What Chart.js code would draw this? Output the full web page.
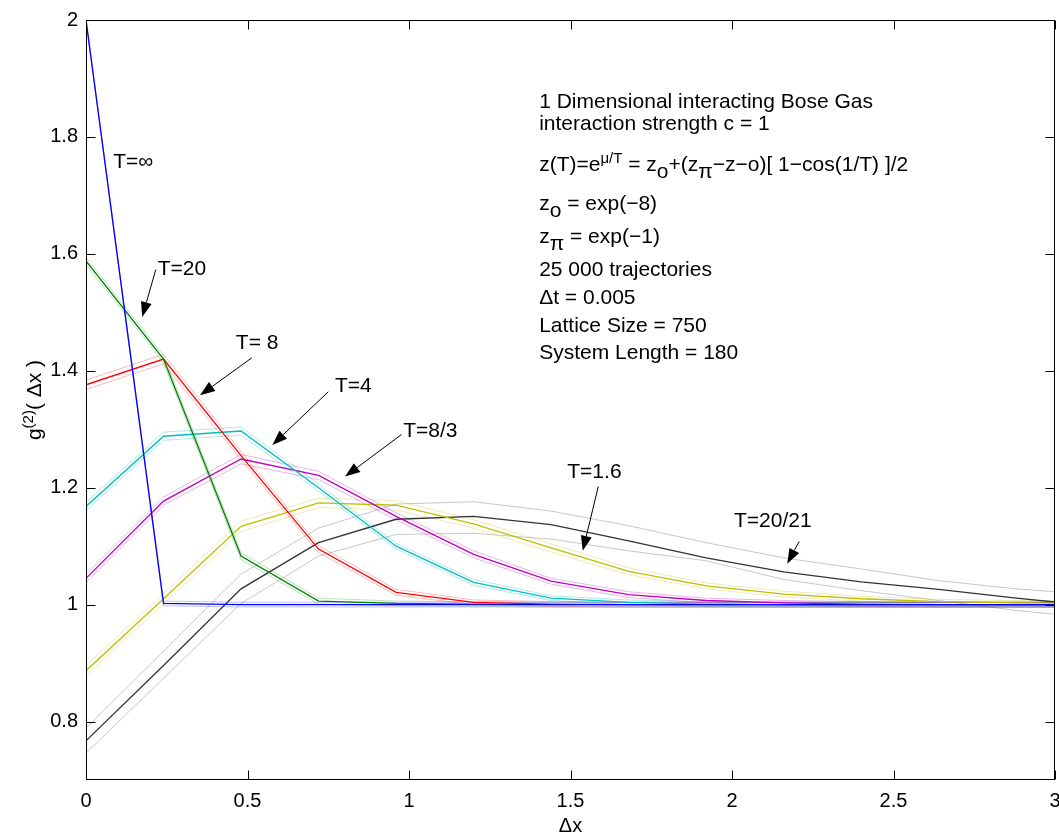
<!DOCTYPE html>
<html>
<head>
<meta charset="utf-8">
<script src="https://cdn.jsdelivr.net/npm/chart.js@4/dist/chart.umd.min.js"></script>
<style>
  html, body { margin: 0; padding: 0; background: #fff; }
  canvas { display: block; }
</style>
</head>
<body>
<canvas id="chart" width="1059" height="836"></canvas>
<script>
// ==================== DATOS ====================
// separacion de red: 180 / 750 = 0.24
const xs = [0, 0.24, 0.48, 0.72, 0.96, 1.2, 1.44, 1.68, 1.92, 2.16, 2.4, 2.64, 2.88, 3.12];

const gInf  = [2.000, 1.002, 1.000, 1.000, 1.000, 1.000, 1.000, 1.000, 1.000, 1.000, 1.000, 1.000, 1.000, 1.000];
const gT20  = [1.588, 1.420, 1.083, 1.006, 1.002, 1.001, 1.000, 1.000, 1.000, 1.000, 1.000, 1.000, 1.000, 1.000];
const gT8   = [1.376, 1.420, 1.255, 1.095, 1.021, 1.004, 1.001, 1.000, 1.000, 1.000, 1.000, 1.000, 1.000, 1.000];
const gT4   = [1.168, 1.288, 1.297, 1.200, 1.100, 1.038, 1.011, 1.004, 1.001, 1.000, 1.000, 1.000, 1.000, 1.000];
const gT83  = [1.045, 1.177, 1.249, 1.221, 1.151, 1.086, 1.040, 1.017, 1.007, 1.003, 1.001, 1.000, 1.000, 1.000];
const gT16  = [0.887, 1.010, 1.134, 1.174, 1.170, 1.138, 1.097, 1.057, 1.032, 1.018, 1.010, 1.005, 1.003, 1.002];
const gT2021 = [0.767, 0.896, 1.027, 1.106, 1.146, 1.151, 1.137, 1.109, 1.080, 1.056, 1.039, 1.026, 1.011, 0.998];

// bandas de error (medio ancho) de cada curva
const errInf  = [0.002, 0.004, 0.004, 0.004, 0.004, 0.004, 0.004, 0.004, 0.004, 0.004, 0.004, 0.004, 0.004, 0.004];
const errT20  = [0.006, 0.006, 0.006, 0.005, 0.004, 0.004, 0.004, 0.004, 0.004, 0.004, 0.004, 0.004, 0.004, 0.004];
const errT8   = [0.008, 0.008, 0.007, 0.006, 0.005, 0.004, 0.004, 0.004, 0.004, 0.004, 0.004, 0.004, 0.004, 0.004];
const errT4   = [0.007, 0.007, 0.007, 0.006, 0.005, 0.005, 0.004, 0.004, 0.004, 0.004, 0.004, 0.004, 0.004, 0.004];
const errT83  = [0.007, 0.007, 0.008, 0.007, 0.006, 0.006, 0.005, 0.005, 0.004, 0.004, 0.004, 0.004, 0.004, 0.004];
const errT16  = [0.009, 0.009, 0.009, 0.008, 0.008, 0.007, 0.007, 0.006, 0.005, 0.005, 0.004, 0.004, 0.004, 0.004];
const upT2021 = [0.789, 0.920, 1.052, 1.131, 1.172, 1.176, 1.160, 1.135, 1.106, 1.080, 1.061, 1.041, 1.027, 1.017];
const loT2021 = [0.746, 0.874, 1.002, 1.083, 1.120, 1.122, 1.112, 1.092, 1.075, 1.043, 1.024, 1.007, 0.990, 0.977];

const xTicks = [0, 0.5, 1, 1.5, 2, 2.5, 3];
const yTicks = [0.8, 1, 1.2, 1.4, 1.6, 1.8, 2];

const FONT_FAMILY = "'Liberation Sans', Arial, Helvetica, sans-serif";
const FONT = '21px ' + FONT_FAMILY;
const SUP_FONT = '15px ' + FONT_FAMILY;

// etiquetas con flecha: texto (x, y) y flecha desde (ax1, ay1) hasta la punta (ax2, ay2), en unidades de datos
const curveLabels = [
    { text: 'T=∞',     x: 0.084, y: 1.747 },
    { text: 'T=20',    x: 0.222, y: 1.563, ax1: 0.216, ay1: 1.573, ax2: 0.174, ay2: 1.492 },
    { text: 'T= 8',    x: 0.464, y: 1.438, ax1: 0.513, ay1: 1.422, ax2: 0.353, ay2: 1.358 },
    { text: 'T=4',     x: 0.771, y: 1.364, ax1: 0.750, ay1: 1.364, ax2: 0.577, ay2: 1.273 },
    { text: 'T=8/3',   x: 0.982, y: 1.286, ax1: 0.977, ay1: 1.291, ax2: 0.802, ay2: 1.219 },
    { text: 'T=1.6',   x: 1.490, y: 1.217, ax1: 1.586, ay1: 1.202, ax2: 1.538, ay2: 1.092 },
    { text: 'T=20/21', x: 2.006, y: 1.133, ax1: 2.208, ay1: 1.108, ax2: 2.171, ay2: 1.070 }
];

// bloque de informacion: cada linea es una lista de trozos [texto, tipo]
const infoLines = [
    [['1 Dimensional interacting Bose Gas', '']],
    [['interaction strength c = 1', '']],
    [['z(T)=e', ''], ['μ/T', 'sup'], [' = z', ''], ['o', 'sub'], ['+(z', ''], ['π', 'sub'], ['−z−o)[ 1−cos(1/T) ]/2', '']],
    [['z', ''], ['o', 'sub'], [' = exp(−8)', '']],
    [['z', ''], ['π', 'sub'], [' = exp(−1)', '']],
    [['25 000 trajectories', '']],
    [['Δt = 0.005', '']],
    [['Lattice Size = 750', '']],
    [['System Length = 180', '']]
];
const infoX = 1.403;
const infoBaselines = [108, 130, 171, 210, 243, 276, 304, 332, 359];

// ==================== DATASETS ====================
const curves = [
    { y: gInf,   err: errInf, color: '#0000ff', band: 'rgba(0,0,255,0.25)' },
    { y: gT20,   err: errT20, color: '#008000', band: 'rgba(0,128,0,0.25)' },
    { y: gT8,    err: errT8,  color: '#ff0000', band: 'rgba(255,0,0,0.28)' },
    { y: gT4,    err: errT4,  color: '#00bfbf', band: 'rgba(0,191,191,0.32)' },
    { y: gT83,   err: errT83, color: '#bf00bf', band: 'rgba(191,0,191,0.3)' },
    { y: gT16,   err: errT16, color: '#bfbf00', band: 'rgba(191,191,0,0.3)' },
    { y: gT2021, up: upT2021, lo: loT2021, color: '#333333', band: 'rgba(0,0,0,0.22)' }
];

function toPoints(arr) {
    return xs.map((x, i) => ({ x: x, y: arr[i] }));
}

function lineSet(arr, color, width, order) {
    return {
        data: toPoints(arr),
        borderColor: color,
        borderWidth: width,
        pointRadius: 0,
        tension: 0,
        fill: false,
        order: order
    };
}

const datasets = [];
for (const c of curves) {
    const up = c.up || c.y.map((v, i) => v + c.err[i]);
    const lo = c.lo || c.y.map((v, i) => v - c.err[i]);
    datasets.push(lineSet(up, c.band, 1, 2));
    datasets.push(lineSet(lo, c.band, 1, 2));
}
for (const c of curves) {
    datasets.push(lineSet(c.y, c.color, 1.3, 1));
}

// ==================== DIBUJO ====================
function drawRich(ctx, x, y, parts) {
    let cx = x;
    for (const [t, kind] of parts) {
        ctx.font = kind === 'sup' ? SUP_FONT : FONT;
        const dy = kind === 'sup' ? -8 : (kind === 'sub' ? 7 : 0);
        ctx.fillText(t, cx, y + dy);
        cx += ctx.measureText(t).width;
    }
    return cx - x;
}

function richWidth(ctx, parts) {
    let w = 0;
    for (const [t, kind] of parts) {
        ctx.font = kind === 'sup' ? SUP_FONT : FONT;
        w += ctx.measureText(t).width;
    }
    return w;
}

function drawArrow(ctx, x1, y1, x2, y2) {
    const ang = Math.atan2(y2 - y1, x2 - x1);
    const len = 15, half = 5.5;
    const bx = x2 - len * Math.cos(ang), by = y2 - len * Math.sin(ang);
    ctx.beginPath();
    ctx.moveTo(x1, y1);
    ctx.lineTo(bx, by);
    ctx.stroke();
    ctx.beginPath();
    ctx.moveTo(x2, y2);
    ctx.lineTo(bx + half * Math.sin(ang), by - half * Math.cos(ang));
    ctx.lineTo(bx - half * Math.sin(ang), by + half * Math.cos(ang));
    ctx.closePath();
    ctx.fill();
}

const framePlugin = {
    id: 'frame',
    afterDraw(chart) {
        const { ctx, chartArea: a, scales } = chart;
        const sx = scales.x, sy = scales.y;
        const L = Math.round(a.left) + 0.5, R = Math.round(a.right) - 0.5;
        const T = Math.round(a.top) + 0.5, B = Math.round(a.bottom) - 0.5;
        const tick = 9;

        ctx.save();
        ctx.strokeStyle = '#000';
        ctx.fillStyle = '#000';
        ctx.lineWidth = 1;
        ctx.strokeRect(L, T, R - L, B - T);

        // ticks hacia dentro
        ctx.beginPath();
        for (const v of xTicks) {
            const px = Math.round(sx.getPixelForValue(v)) + 0.5;
            ctx.moveTo(px, B); ctx.lineTo(px, B - tick);
            ctx.moveTo(px, T); ctx.lineTo(px, T + tick);
        }
        for (const v of yTicks) {
            const py = Math.round(sy.getPixelForValue(v)) + 0.5;
            ctx.moveTo(L, py); ctx.lineTo(L + tick, py);
            ctx.moveTo(R, py); ctx.lineTo(R - tick, py);
        }
        ctx.stroke();

        ctx.textAlign = 'left';
        ctx.textBaseline = 'alphabetic';

        // etiquetas de curvas y flechas
        for (const lab of curveLabels) {
            ctx.font = FONT;
            ctx.fillText(lab.text, sx.getPixelForValue(lab.x), sy.getPixelForValue(lab.y));
            if (lab.ax1 !== undefined) {
                drawArrow(ctx,
                    sx.getPixelForValue(lab.ax1), sy.getPixelForValue(lab.ay1),
                    sx.getPixelForValue(lab.ax2), sy.getPixelForValue(lab.ay2));
            }
        }

        // bloque de texto
        const ix = sx.getPixelForValue(infoX);
        infoLines.forEach((parts, i) => drawRich(ctx, ix, infoBaselines[i], parts));

        // titulo eje x
        ctx.font = '20px ' + FONT_FAMILY;
        ctx.textAlign = 'center';
        ctx.fillText('Δx', (a.left + a.right) / 2, 832);

        // titulo eje y (rotado)
        const yParts = [['g', ''], ['(2)', 'sup'], ['( Δx )', '']];
        ctx.textAlign = 'left';
        ctx.translate(41, (a.top + a.bottom) / 2);
        ctx.rotate(-Math.PI / 2);
        const w = richWidth(ctx, yParts);
        drawRich(ctx, -w / 2, 0, yParts);
        ctx.restore();
    }
};

const tickFont = { family: FONT_FAMILY, size: 20 };

new Chart(document.getElementById('chart').getContext('2d'), {
    type: 'line',
    data: { datasets: datasets },
    options: {
        responsive: false,
        animation: false,
        events: [],
        layout: { padding: { top: 16, right: 4, left: 0, bottom: 0 } },
        plugins: {
            legend: { display: false },
            tooltip: { enabled: false }
        },
        scales: {
            x: {
                type: 'linear',
                min: 0,
                max: 3,
                afterBuildTicks: (scale) => { scale.ticks = xTicks.map(v => ({ value: v })); },
                afterFit: (scale) => {
                    scale.height = 56;
                    scale.paddingLeft = 0;
                    scale.paddingRight = 0;
                },
                ticks: { font: tickFont, color: '#000', padding: 9, maxRotation: 0, autoSkip: false,
                         callback: (v) => String(v) },
                grid: { display: false, drawTicks: false },
                border: { display: false }
            },
            y: {
                type: 'linear',
                min: 0.7,
                max: 2,
                afterBuildTicks: (scale) => { scale.ticks = yTicks.map(v => ({ value: v })); },
                afterFit: (scale) => { scale.width = 86; },
                ticks: { font: tickFont, color: '#000', padding: 8, autoSkip: false,
                         callback: (v) => String(v) },
                grid: { display: false, drawTicks: false },
                border: { display: false }
            }
        }
    },
    plugins: [framePlugin]
});
</script>
</body>
</html>
